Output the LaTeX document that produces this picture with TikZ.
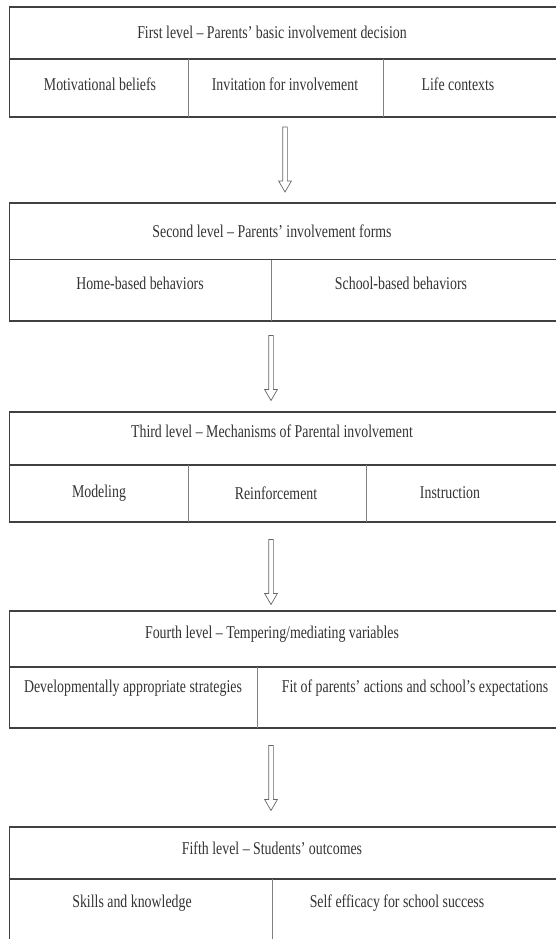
\documentclass[tikz,border=0pt]{standalone}
\usepackage{fontspec}
\setmainfont{Liberation Serif}
\usepackage{graphicx}
\usetikzlibrary{shapes.arrows}
\newcommand{\narrow}[1]{\scalebox{0.77}[1]{#1}}

\begin{document}
\begin{tikzpicture}[x=1pt,y=-1pt,
    frame/.style={draw=black!75,line width=1.4pt},
    cellline/.style={draw=black!50,line width=1pt},
    lbl/.style={text=black!80,font=\fontsize{18}{20}\selectfont,inner sep=0pt},
    downarrow/.style={single arrow,draw=black!60,line width=0.7pt,fill=white,
      shape border rotate=270,inner sep=2pt,single arrow head extend=4pt,
      single arrow tip angle=60,minimum height=65pt}]
  \clip (0,0) rectangle (556,939);
  % first level
  \draw[frame] (9.5,7) rectangle (580,117);
  \draw[frame] (9.5,59) -- (580,59);
  \draw[cellline] (188,59) -- (188,117) (383,59) -- (383,117);
  \node[lbl] (first) at (272,32) {\narrow{First level -- Parents' basic involvement decision}};
  \node[lbl] (beliefs) at (100,84) {\narrow{Motivational beliefs}};
  \node[lbl] (invitation) at (285,84) {\narrow{Invitation for involvement}};
  \node[lbl] (contexts) at (458,84) {\narrow{Life contexts}};
  \node[downarrow] (arr1) at (285,157.5) {};
  % second level
  \draw[frame] (9.5,203) rectangle (580,321);
  \draw[frame] (9.5,259.5) -- (580,259.5);
  \draw[cellline] (271,259.5) -- (271,321);
  \node[lbl] (second) at (272,231) {\narrow{Second level -- Parents' involvement forms}};
  \node[lbl] (home) at (140,283) {\narrow{Home-based behaviors}};
  \node[lbl] (school) at (401,283) {\narrow{School-based behaviors}};
  \node[downarrow] (arr2) at (271,366) {};
  % third level
  \draw[frame] (9.5,412) rectangle (580,522);
  \draw[frame] (9.5,465) -- (580,465);
  \draw[cellline] (188,465) -- (188,522) (366,465) -- (366,522);
  \node[lbl] (third) at (272,431) {\narrow{Third level -- Mechanisms of Parental involvement}};
  \node[lbl] (modeling) at (99,493) {\narrow{Modeling}};
  \node[lbl] (reinforce) at (276,493) {\narrow{Reinforcement}};
  \node[lbl] (instruct) at (450,493) {\narrow{Instruction}};
  \node[downarrow] (arr3) at (271,570) {};
  % fourth level
  \draw[frame] (9.5,611) rectangle (580,728);
  \draw[frame] (9.5,667) -- (580,667);
  \draw[cellline] (257,667) -- (257,728);
  \node[lbl] (fourth) at (272,634) {\narrow{Fourth level -- Tempering/mediating variables}};
  \node[lbl] (strategies) at (133,688) {\narrow{Developmentally appropriate strategies}};
  \node[lbl] (fit) at (415,688) {\narrow{Fit of parents' actions and school's expectations}};
  \node[downarrow] (arr4) at (271,776) {};
  % fifth level
  \draw[frame] (9.5,827) rectangle (580,960);
  \draw[frame] (9.5,879) -- (580,879);
  \draw[cellline] (272,879) -- (272,960);
  \node[lbl] (fifth) at (272,848) {\narrow{Fifth level -- Students' outcomes}};
  \node[lbl] (skills) at (132,903) {\narrow{Skills and knowledge}};
  \node[lbl] (efficacy) at (397,903) {\narrow{Self efficacy for school success}};
\end{tikzpicture}
\end{document}
